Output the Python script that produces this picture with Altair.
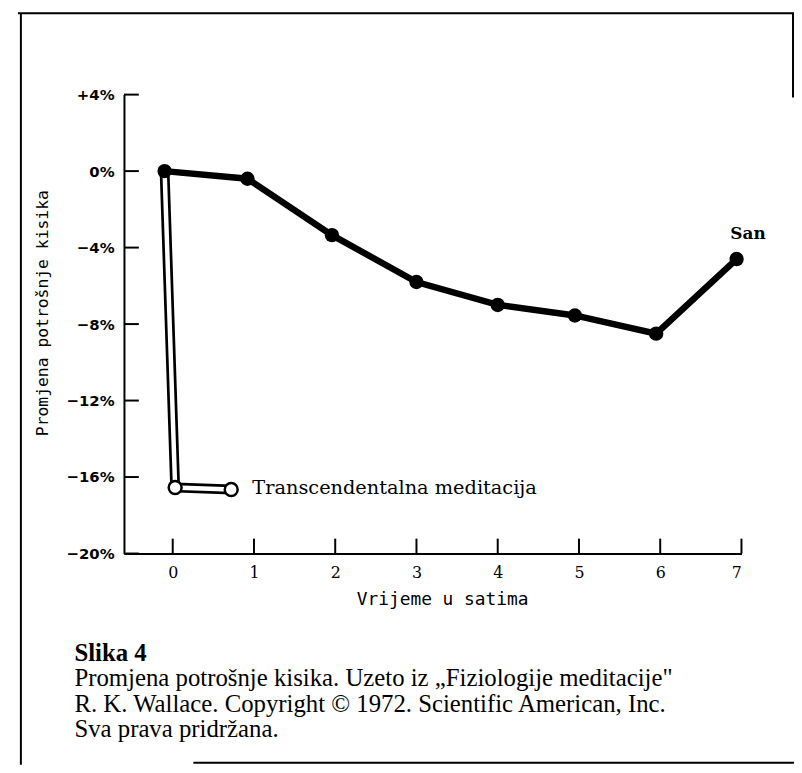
import altair as alt
import pandas as pd

# Sleep curve (San): hours vs change of oxygen consumption (%)
hours = [-0.1, 0.92, 1.96, 3.0, 4.0, 4.95, 5.95, 6.94]
oxygen = [0, -0.4, -3.35, -5.8, -7.0, -7.55, -8.5, -4.6]

# Transcendental meditation curve
tm_hours = [-0.1, 0.03, 0.72]
tm_oxygen = [0, -16.55, -16.65]

x_ticks = [0, 1, 2, 3, 4, 5, 6, 7]
y_ticks = [4, 0, -4, -8, -12, -16, -20]

tm_label = "Transcendentalna meditacija"
sleep_label = "San"
x_title = "Vrijeme u satima"
y_title = "Promjena potrošnje kisika"
caption_title = "Slika 4"
caption_lines = [
    "Promjena potrošnje kisika. Uzeto iz „Fiziologije meditacije\"",
    "R. K. Wallace. Copyright © 1972. Scientific American, Inc.",
    "Sva prava pridržana.",
]

sleep_df = pd.DataFrame({"hour": hours, "pct": oxygen})
tm_df = pd.DataFrame({"hour": tm_hours, "pct": tm_oxygen})
xt_df = pd.DataFrame({"hour": x_ticks})
yt_df = pd.DataFrame({"pct": y_ticks})
lab_df = pd.DataFrame({"hour": [0.98], "pct": [-16.6], "t": [tm_label]})
san_df = pd.DataFrame({"hour": [7.08], "pct": [-3.3], "t": [sleep_label]})
cap_head_df = pd.DataFrame({"t": [caption_title]})
cap_df = pd.DataFrame({"t": ["\n".join(caption_lines)]})
one = pd.DataFrame({"a": [0]})

xs = alt.Scale(domain=[-0.6, 7], nice=False, zero=False)
ys = alt.Scale(domain=[-20, 4], nice=False, zero=False)

W, H = 623, 463

x_axis = alt.Axis(values=x_ticks, format="d", ticks=False, grid=False, domainColor="black", domainWidth=2,
                  labelFont="DejaVu Serif", labelFontSize=16, labelColor="black", labelPadding=11,
                  title=x_title, titleFont="DejaVu Sans Mono", titleFontSize=18, titleFontWeight="normal",
                  titleColor="black", titlePadding=10, titleX=321)
y_axis = alt.Axis(values=y_ticks, ticks=False, grid=False, domainColor="black", domainWidth=2,
                  labelExpr="datum.value > 0 ? '+' + datum.value + '%' : (datum.value < 0 ? '−' + abs(datum.value) + '%' : '0%')",
                  labelFont="DejaVu Sans", labelFontSize=15, labelFontWeight="bold",
                  labelColor="black", labelPadding=10,
                  title=y_title, titleFont="DejaVu Sans Mono", titleFontSize=16.5, titleFontWeight="normal",
                  titleColor="black", titlePadding=16, titleY=220)

sleep_line = alt.Chart(sleep_df).mark_line(color="black", strokeWidth=6.5).encode(
    x=alt.X("hour:Q", scale=xs, axis=x_axis),
    y=alt.Y("pct:Q", scale=ys, axis=y_axis),
)
sleep_pts = alt.Chart(sleep_df).mark_circle(color="black", size=210, opacity=1).encode(
    x="hour:Q", y="pct:Q"
)

tm_outer = alt.Chart(tm_df).mark_line(color="black", strokeWidth=10, strokeJoin="miter").encode(
    x="hour:Q", y="pct:Q"
)
tm_inner = alt.Chart(tm_df).mark_line(color="white", strokeWidth=4.5, strokeJoin="miter").encode(
    x="hour:Q", y="pct:Q"
)
tm_pts = alt.Chart(tm_df.iloc[1:]).mark_point(
    filled=True, fill="white", stroke="black", strokeWidth=2.5, size=170, opacity=1
).encode(x="hour:Q", y="pct:Q")

x_tick_rules = alt.Chart(xt_df).mark_rule(color="black", strokeWidth=2).encode(
    x="hour:Q", y=alt.value(H), y2=alt.value(H - 15)
)
y_tick_rules = alt.Chart(yt_df).mark_rule(color="black", strokeWidth=2).encode(
    y="pct:Q", x=alt.value(0), x2=alt.value(15)
)

tm_text = alt.Chart(lab_df).mark_text(align="left", baseline="middle", font="DejaVu Serif",
                                      fontSize=19.5, color="black").encode(
    x="hour:Q", y="pct:Q", text="t:N"
)
san_text = alt.Chart(san_df).mark_text(align="center", baseline="middle", font="DejaVu Serif",
                                       fontSize=17, fontWeight="bold", color="black").encode(
    x="hour:Q", y="pct:Q", text="t:N"
)

# caption below the figure
cap_head = alt.Chart(cap_head_df).mark_text(
    align="left", baseline="alphabetic", font="Liberation Serif", fontSize=25, fontWeight="bold",
    color="black").encode(text="t:N", x=alt.value(-50), y=alt.value(571))
cap_body = alt.Chart(cap_df).mark_text(
    align="left", baseline="alphabetic", font="Liberation Serif", fontSize=25, color="black",
    lineHeight=25.5, lineBreak="\n").encode(
    text="t:N", x=alt.value(-50), y=alt.value(597))

# frame around the figure
frame_top = alt.Chart(one).mark_rule(color="black", strokeWidth=2).encode(
    x=alt.value(-107), x2=alt.value(676), y=alt.value(-82))
frame_left = alt.Chart(one).mark_rule(color="black", strokeWidth=2).encode(
    x=alt.value(-104), y=alt.value(-82), y2=alt.value(676))
frame_right = alt.Chart(one).mark_rule(color="black", strokeWidth=2).encode(
    x=alt.value(675), y=alt.value(-82), y2=alt.value(3))
frame_bottom = alt.Chart(one).mark_rule(color="black", strokeWidth=2).encode(
    x=alt.value(70), x2=alt.value(676), y=alt.value(674))

chart = alt.layer(
    sleep_line, y_tick_rules, x_tick_rules, tm_outer, tm_inner, tm_pts, sleep_pts,
    tm_text, san_text, cap_head, cap_body, frame_top, frame_left, frame_right, frame_bottom
).properties(
    width=W, height=H,
    background="white",
    autosize=alt.AutoSizeParams(type="none"),
    padding={"left": 117, "top": 84, "right": 53, "bottom": 213},
).configure_view(stroke=None)

chart.save("out.html", embed_options={"renderer": "svg", "actions": False})
